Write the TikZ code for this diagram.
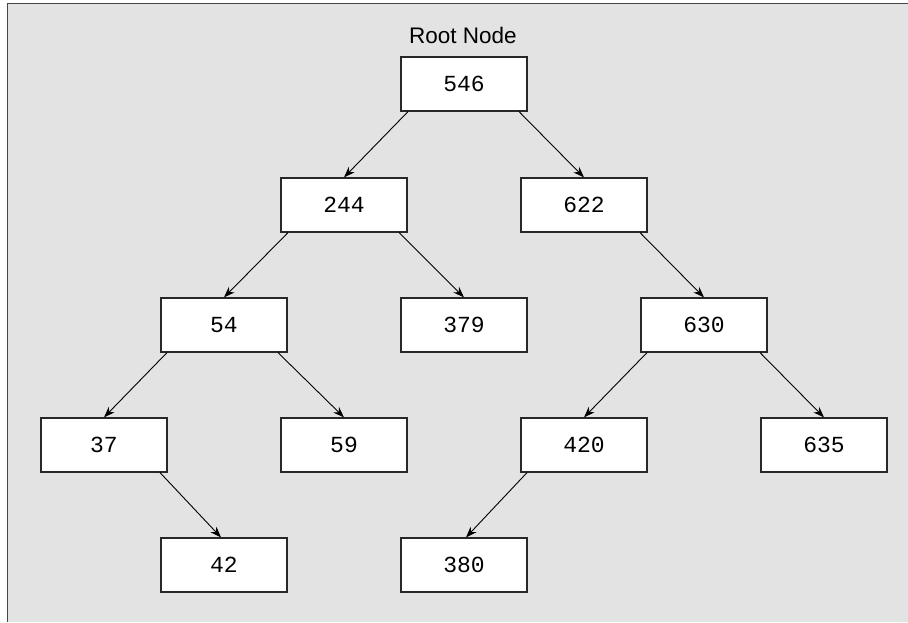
\documentclass[tikz,border=0pt]{standalone}
\usepackage{fontspec}
\setmainfont{Liberation Sans}
\newfontfamily\monof{Liberation Mono}
\usetikzlibrary{arrows.meta}
\definecolor{bg}{RGB}{227,227,227}
\definecolor{frame}{RGB}{70,70,70}
\definecolor{boxline}{RGB}{40,40,40}
\begin{document}
\begin{tikzpicture}[x=1pt,y=-1pt,
  tnode/.style={draw=boxline,line width=1.2pt,fill=white,minimum width=126pt,minimum height=54pt,inner sep=0pt,font=\monof\fontsize{23}{26}\selectfont},
  edge/.style={line width=0.9pt,-{Stealth[length=11pt,width=8pt]}}]
\useasboundingbox (0,0) rectangle (908,622);
\fill[bg] (8,4) rectangle (908,622);
\draw[frame,line width=1.6pt] (7.5,622) -- (7.5,3.5) -- (908,3.5);
\node[font=\fontsize{22.5}{26}\selectfont] (lbl) at (463,35) {Root Node};
\node[tnode] (n546) at (464,84) {546};
\node[tnode] (n244) at (344,205) {244};
\node[tnode] (n622) at (584,205) {622};
\node[tnode] (n54) at (224,325) {54};
\node[tnode] (n379) at (464,325) {379};
\node[tnode] (n630) at (704,325) {630};
\node[tnode] (n37) at (104,445) {37};
\node[tnode] (n59) at (344,445) {59};
\node[tnode] (n420) at (584,445) {420};
\node[tnode] (n635) at (824,445) {635};
\node[tnode] (n42) at (224,565) {42};
\node[tnode] (n380) at (464,565) {380};
\draw[edge] ([xshift=-56pt]n546.south) -- (n244.north);
\draw[edge] ([xshift=55pt]n546.south) -- (n622.north);
\draw[edge] ([xshift=-56pt]n244.south) -- (n54.north);
\draw[edge] ([xshift=55pt]n244.south) -- (n379.north);
\draw[edge] ([xshift=56pt]n622.south) -- (n630.north);
\draw[edge] ([xshift=-57pt]n54.south) -- (n37.north);
\draw[edge] ([xshift=54pt]n54.south) -- (n59.north);
\draw[edge] ([xshift=-57pt]n630.south) -- (n420.north);
\draw[edge] ([xshift=56pt]n630.south) -- (n635.north);
\draw[edge] ([xshift=56pt]n37.south) -- ([xshift=-3pt]n42.north);
\draw[edge] ([xshift=-57pt]n420.south) -- ([xshift=2pt]n380.north);
\end{tikzpicture}
\end{document}
